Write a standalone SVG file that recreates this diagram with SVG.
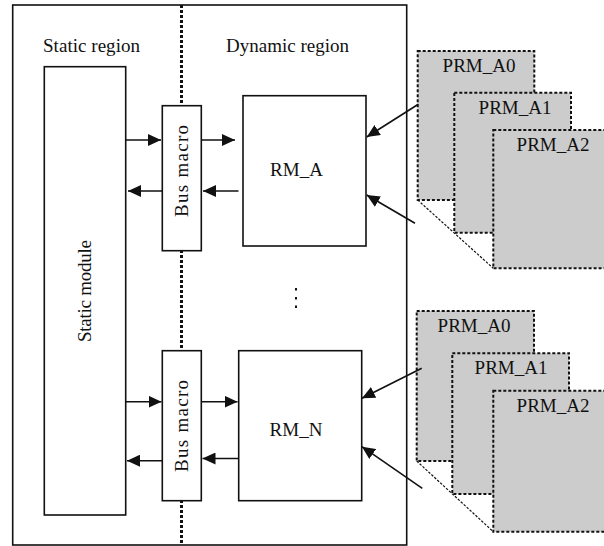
<svg xmlns="http://www.w3.org/2000/svg" width="604" height="546" viewBox="0 0 604 546">
<style>
  text { font-family: "Liberation Serif", "DejaVu Serif", serif; font-size: 19px; fill: #111; }
  .box { fill: #fff; stroke: #111; stroke-width: 1.6; }
  .prm { fill: #cccccc; stroke: #111; stroke-width: 2; stroke-dasharray: 3 2; }
  .conn { stroke: #111; stroke-width: 1.6; fill: none; }
  .diag { stroke: #111; stroke-width: 1.2; stroke-dasharray: 2.5 1.5; fill: none; }
</style>
<defs>
  <marker id="ah" viewBox="0 0 13 12" refX="13" refY="6" markerWidth="13" markerHeight="12" markerUnits="userSpaceOnUse" orient="auto">
    <path d="M0,0 L13,6 L0,12 z" fill="#111"/>
  </marker>
</defs>
<rect width="604" height="546" fill="#fff"/>

<g id="frame">
  <rect x="12.7" y="5" width="394" height="540" fill="none" stroke="#111" stroke-width="1.6"/>
  <line x1="181.5" y1="5" x2="181.5" y2="545" stroke="#111" stroke-width="3" stroke-dasharray="3 2"/>
  <text x="43" y="52" textLength="97" lengthAdjust="spacing">Static region</text>
  <text x="226" y="52" textLength="123" lengthAdjust="spacing">Dynamic region</text>
  <g id="ellipsis" fill="#111">
    <rect x="295" y="288" width="2" height="2.5"/>
    <rect x="295" y="297" width="2" height="2.5"/>
    <rect x="295" y="305.5" width="2" height="2.5"/>
  </g>
</g>

<g id="static-module">
  <rect class="box" x="44.3" y="66.7" width="81.4" height="448.3"/>
  <text transform="translate(91,291) rotate(-90)" text-anchor="middle" textLength="102" lengthAdjust="spacing">Static module</text>
</g>

<g id="bus-macro-a">
  <rect class="box" x="162.3" y="105.7" width="39" height="145"/>
  <text transform="translate(188,171) rotate(-90)" text-anchor="middle" textLength="92" lengthAdjust="spacing">Bus macro</text>
</g>

<g id="bus-macro-n">
  <rect class="box" x="162.3" y="350.7" width="39" height="150"/>
  <text transform="translate(188,426) rotate(-90)" text-anchor="middle" textLength="92" lengthAdjust="spacing">Bus macro</text>
</g>

<g id="rm-a">
  <rect class="box" x="243" y="95.7" width="123" height="150.3"/>
  <text x="296.5" y="176" text-anchor="middle">RM_A</text>
</g>

<g id="rm-n">
  <rect class="box" x="238.7" y="350.7" width="123" height="150"/>
  <text x="296" y="436" text-anchor="middle">RM_N</text>
</g>

<g id="prm-top">
  <line class="diag" x1="417.7" y1="200" x2="493.3" y2="268.3"/>
  <rect class="prm" x="417.7" y="51" width="116.6" height="149"/>
  <rect class="prm" x="454.3" y="92.7" width="116.7" height="140"/>
  <rect class="prm" x="493.3" y="130" width="120" height="138.3"/>
  <text x="479" y="72" text-anchor="middle">PRM_A0</text>
  <text x="515" y="113.5" text-anchor="middle">PRM_A1</text>
  <text x="553" y="151" text-anchor="middle">PRM_A2</text>
</g>

<g id="prm-bottom">
  <line class="diag" x1="416.7" y1="461" x2="493.3" y2="531.7"/>
  <rect class="prm" x="416.7" y="311" width="117.3" height="150"/>
  <rect class="prm" x="452.3" y="353.3" width="116.7" height="140.7"/>
  <rect class="prm" x="493.3" y="390.7" width="120" height="141"/>
  <text x="474" y="332" text-anchor="middle">PRM_A0</text>
  <text x="511" y="374" text-anchor="middle">PRM_A1</text>
  <text x="553" y="412" text-anchor="middle">PRM_A2</text>
</g>

<g id="connectors">
  <line class="conn" x1="125.7" y1="140" x2="161" y2="140" marker-end="url(#ah)"/>
  <line class="conn" x1="201.3" y1="140" x2="235" y2="140" marker-end="url(#ah)"/>
  <line class="conn" x1="238.5" y1="191" x2="203" y2="191" marker-end="url(#ah)"/>
  <line class="conn" x1="162.3" y1="191" x2="128" y2="191" marker-end="url(#ah)"/>
  <line class="conn" x1="418.3" y1="104.3" x2="366.7" y2="137" marker-end="url(#ah)"/>
  <line class="conn" x1="415" y1="223.3" x2="366.7" y2="195" marker-end="url(#ah)"/>

  <line class="conn" x1="125.7" y1="401.7" x2="161.5" y2="401.7" marker-end="url(#ah)"/>
  <line class="conn" x1="201.3" y1="401.7" x2="237.5" y2="401.7" marker-end="url(#ah)"/>
  <line class="conn" x1="238.7" y1="458.5" x2="202.5" y2="458.5" marker-end="url(#ah)"/>
  <line class="conn" x1="162.3" y1="460.7" x2="127" y2="460.7" marker-end="url(#ah)"/>
  <line class="conn" x1="421.7" y1="368.3" x2="362" y2="398.3" marker-end="url(#ah)"/>
  <line class="conn" x1="422.3" y1="488.3" x2="362" y2="446.7" marker-end="url(#ah)"/>
</g>
</svg>
